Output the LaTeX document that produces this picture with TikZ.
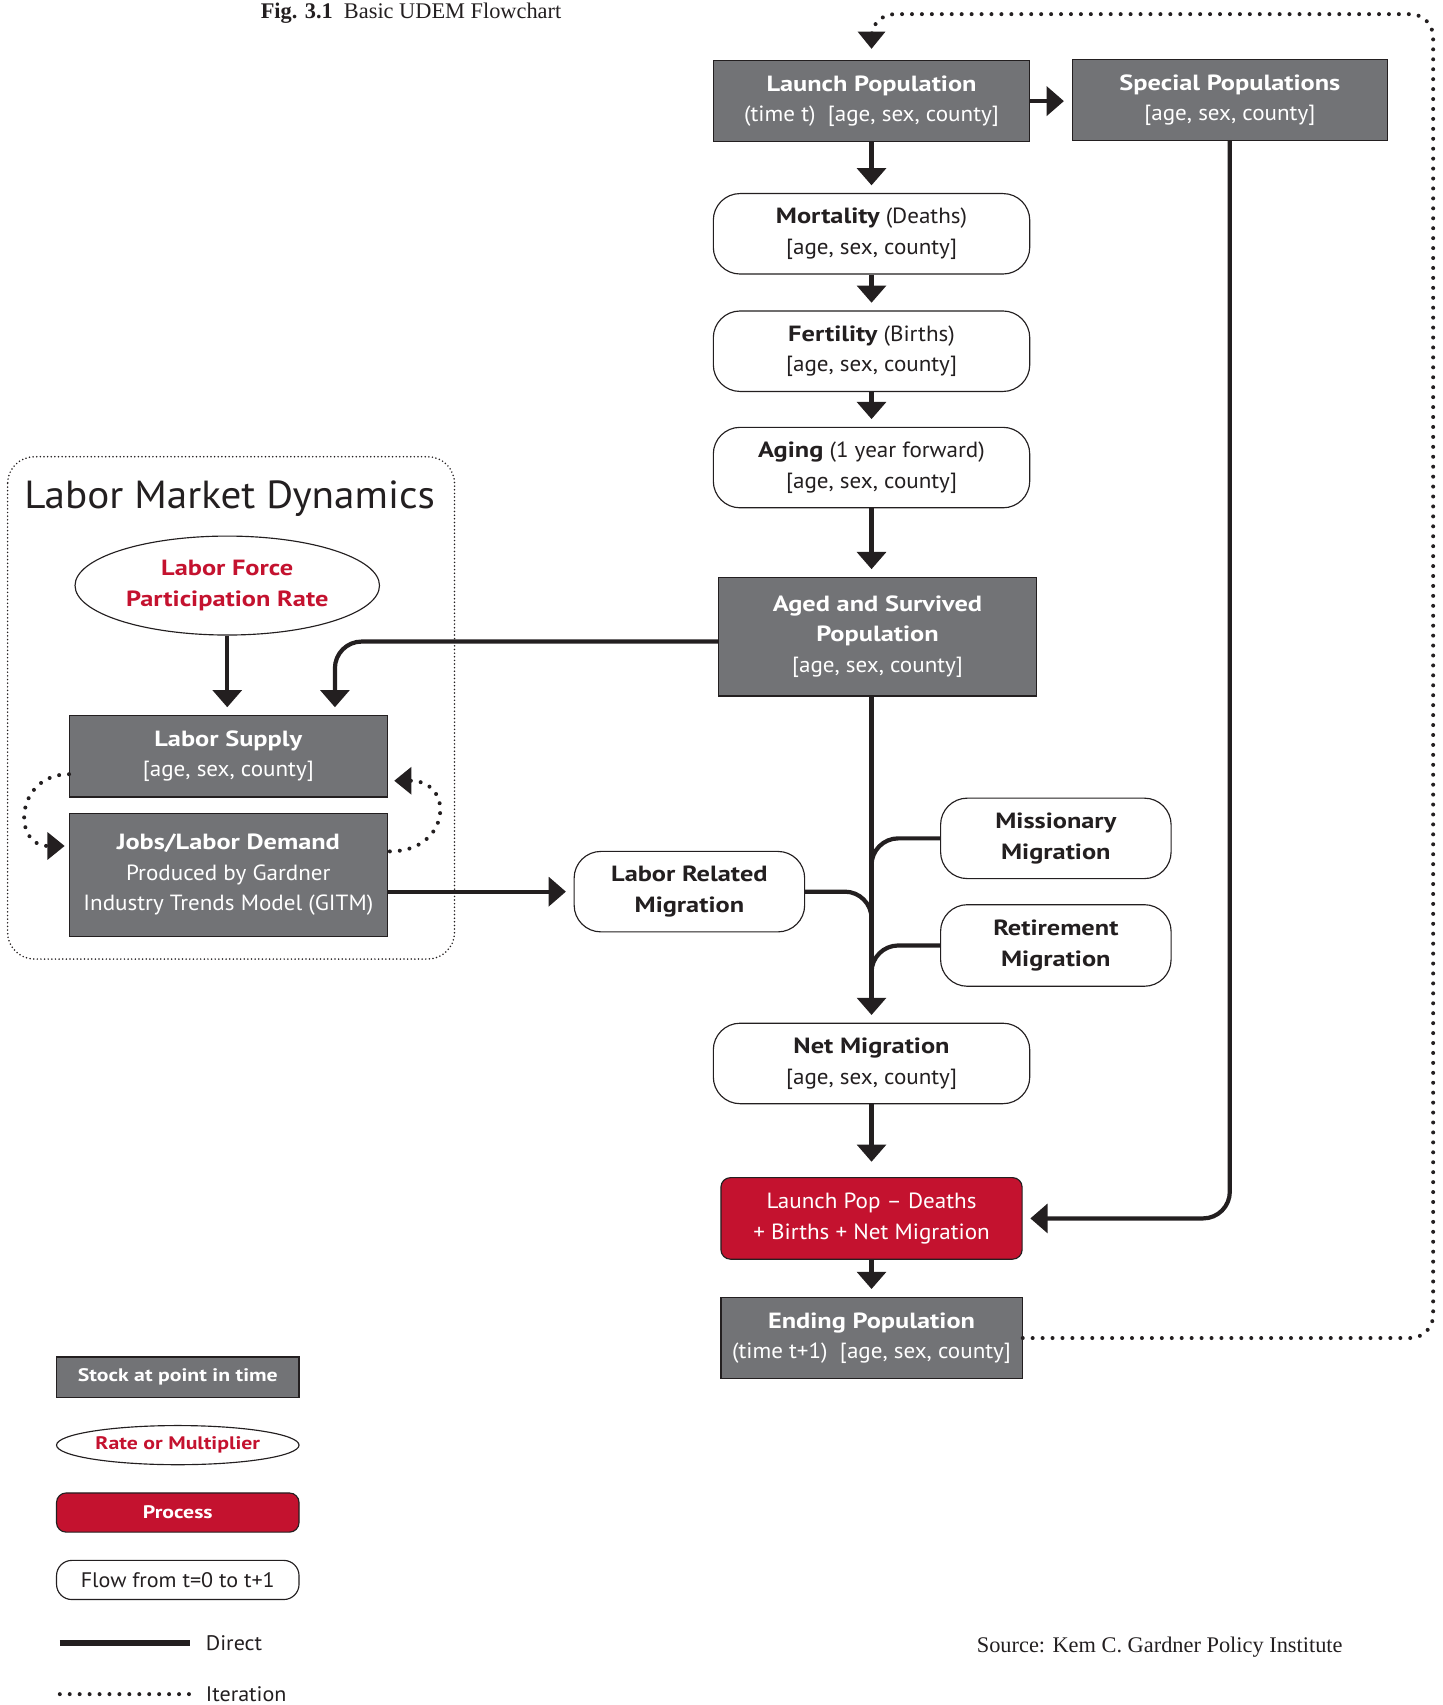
\documentclass[tikz,border=0pt]{standalone}
\usepackage{fontspec}
\setmainfont{PT Sans}[FakeStretch=1.05]
\newfontfamily\widesans{PT Sans}[FakeStretch=1.2]
\newfontfamily\captionfont{Liberation Serif}
\newcommand\boxtitle[1]{{\widesans\bfseries #1}}
\usepackage{xcolor}
\usepackage{tikz}
\usetikzlibrary{calc,arrows.meta,shapes.geometric}
\definecolor{ink}{HTML}{231F20}
\definecolor{stockgray}{HTML}{727376}
\definecolor{udemred}{HTML}{C4122F}
\tikzset{
	base/.style={inner sep=0pt,align=center,text=ink,font=\fontsize{11.5}{16}\selectfont,line width=0.6pt,draw=ink},
	stock/.style={base,rectangle,fill=stockgray,text=white,minimum width=58.2mm,minimum height=14.8mm},
	flow/.style={base,rectangle,rounded corners=14pt,fill=white,minimum width=58.2mm,minimum height=14.8mm},
	rate/.style={base,ellipse,text=udemred},
	process/.style={base,rectangle,rounded corners=5pt,fill=udemred,text=white},
	keyfont/.style={font=\widesans\bfseries\fontsize{9.5}{11}\selectfont},
	plain/.style={line width=2.2pt,draw=ink},
	direct/.style={plain,-{Triangle[width=15pt,length=9pt]},shorten >=4pt},
	iteration/.style={line width=2.1pt,draw=ink,line cap=round,dash pattern=on 0pt off 5.2pt},
	iterarrow/.style={iteration,-{Triangle[width=14pt,length=9pt]}},
	dynframe/.style={line width=0.9pt,draw=ink,line cap=round,dash pattern=on 0pt off 1.9pt,rounded corners=14pt},
	keylabel/.style={anchor=west,inner sep=0pt,text=ink,font=\fontsize{11}{13}\selectfont},
}
\begin{document}
\begin{tikzpicture}[x=0.2mm,y=-0.2mm]
			\useasboundingbox (0,0) rectangle (1327,1568);
			\node[font=\captionfont\fontsize{11.7}{13}\selectfont,text=ink] (caption) at (378,12) {\textbf{Fig. 3.1}\ \ Basic UDEM Flowchart};
			\node[stock] (launch) at (801.5,93) {\boxtitle{Launch Population}\\(time t)\ \ [age, sex, county]};
			\node[stock,minimum width=58mm] (special) at (1131,92) {\boxtitle{Special Populations}\\{}[age, sex, county]};
			\node[flow] (mortality) at (801.5,215) {\boxtitle{Mortality} (Deaths)\\{}[age, sex, county]};
			\node[flow] (fertility) at (801.5,323) {\boxtitle{Fertility} (Births)\\{}[age, sex, county]};
			\node[flow] (aging) at (801.5,430) {\boxtitle{Aging} (1 year forward)\\{}[age, sex, county]};
			\node[stock,minimum width=58.4mm,minimum height=21.8mm] (aged) at (807,585.5) {\boxtitle{Aged and Survived}\\\boxtitle{Population}\\{}[age, sex, county]};
			\node[flow,minimum width=42.4mm] (labormig) at (634,820) {\boxtitle{Labor Related}\\\boxtitle{Migration}};
			\node[flow,minimum width=42.4mm] (missionary) at (971,771) {\boxtitle{Missionary}\\\boxtitle{Migration}};
			\node[flow,minimum width=42.4mm,minimum height=15mm] (retirement) at (971,869.5) {\boxtitle{Retirement}\\\boxtitle{Migration}};
			\node[flow] (netmig) at (801.5,978) {\boxtitle{Net Migration}\\{}[age, sex, county]};
			\node[process,minimum width=55.4mm,minimum height=15mm] (calc) at (801.5,1120.5) {Launch Pop – Deaths\\+ Births + Net Migration};
			\node[stock,minimum width=55.4mm,minimum height=15mm] (ending) at (801.5,1230.5) {\boxtitle{Ending Population}\\(time t+1)\ \ [age, sex, county]};
			\draw[dynframe] (7,420) rectangle (418,882);
			\node[anchor=west,inner sep=0pt,font=\fontsize{20.5}{24}\selectfont,text=ink] (dynamics) at (22,459) {Labor Market Dynamics};
			\node[rate,minimum width=56mm,minimum height=18.2mm] (lfpr) at (209,538.5) {\boxtitle{Labor Force}\\\boxtitle{Participation Rate}};
			\node[stock,minimum width=58.4mm,minimum height=15mm] (supply) at (210,695.5) {\boxtitle{Labor Supply}\\{}[age, sex, county]};
			\node[stock,minimum width=58.4mm,minimum height=22.6mm] (jobs) at (210,804.5) {\boxtitle{Jobs/Labor Demand}\\Produced by Gardner\\Industry Trends Model (GITM)};
			\coordinate (merge) at ([yshift=4mm]netmig.north);
			\coordinate (loopcorner) at (1318,13);
			\draw[direct] (launch.east) -- (launch.east -| special.west);
			\draw[direct] (launch.south) -- (mortality.north);
			\draw[direct] (mortality.south) -- (fertility.north);
			\draw[direct] (fertility.south) -- (aging.north);
			\draw[direct] (aging.south) -- (aging.south |- aged.north);
			\draw[direct] (aged.south -| netmig.north) -- (netmig.north);
			\draw[plain,rounded corners=14pt] (missionary.west) -| (merge);
			\draw[plain,rounded corners=14pt] (labormig.east) -| (merge);
			\draw[plain,rounded corners=14pt] (retirement.west) -| (merge);
			\draw[direct,rounded corners=14pt] ([yshift=-0.9mm]aged.west) -| ([xshift=19.6mm]supply.north);
			\draw[direct] (lfpr.south) -- (lfpr.south |- supply.north);
			\draw[direct] (jobs.east |- labormig.west) -- (labormig.west);
			\draw[direct,shorten >=8pt] (netmig.south) -- (calc.north);
			\draw[direct,rounded corners=14pt] (special.south) |- (calc.east);
			\draw[direct] (calc.south) -- (ending.north);
			\draw[iterarrow,rounded corners=12pt,shorten >=6pt] (ending.east) -| (loopcorner) -| (launch.north);
			\draw[iterarrow] ([yshift=-3.3mm]supply.west) to[out=180,in=180,looseness=1.9] ([xshift=-0.8mm,yshift=5.3mm]jobs.west);
			\draw[iterarrow] ([xshift=0.4mm,yshift=4.3mm]jobs.east) to[out=0,in=0,looseness=2.2] ([xshift=1.2mm,yshift=-4.5mm]supply.east);
			\node[stock,minimum width=44.6mm,minimum height=7.4mm,keyfont] (keystock) at (163.5,1266.5) {Stock at point in time};
			\node[rate,minimum width=44.6mm,minimum height=7.2mm,keyfont] (keyrate) at (163.5,1329) {Rate or Multiplier};
			\node[process,minimum width=44.6mm,minimum height=7.2mm,keyfont] (keyprocess) at (163.5,1391) {Process};
			\node[flow,minimum width=44.6mm,minimum height=7.2mm,rounded corners=8pt,font=\fontsize{11}{13}\selectfont] (keyflow) at (163.5,1453) {Flow from t=0 to t+1};
			\node[keylabel] (keydirect) at (189,1511) {Direct};
			\node[keylabel] (keyiter) at (189,1558) {Iteration};
			\draw[plain,line width=2.8pt] ([xshift=-26.8mm]keydirect.west) -- ([xshift=-2.8mm]keydirect.west);
			\draw[iteration] ([xshift=-26.8mm]keyiter.west) -- ([xshift=-2.2mm]keyiter.west);
			\node[keylabel,font=\captionfont\fontsize{11.7}{13}\selectfont] (source) at (898,1515) {Source: Kem C. Gardner Policy Institute};
		\end{tikzpicture}
\end{document}
